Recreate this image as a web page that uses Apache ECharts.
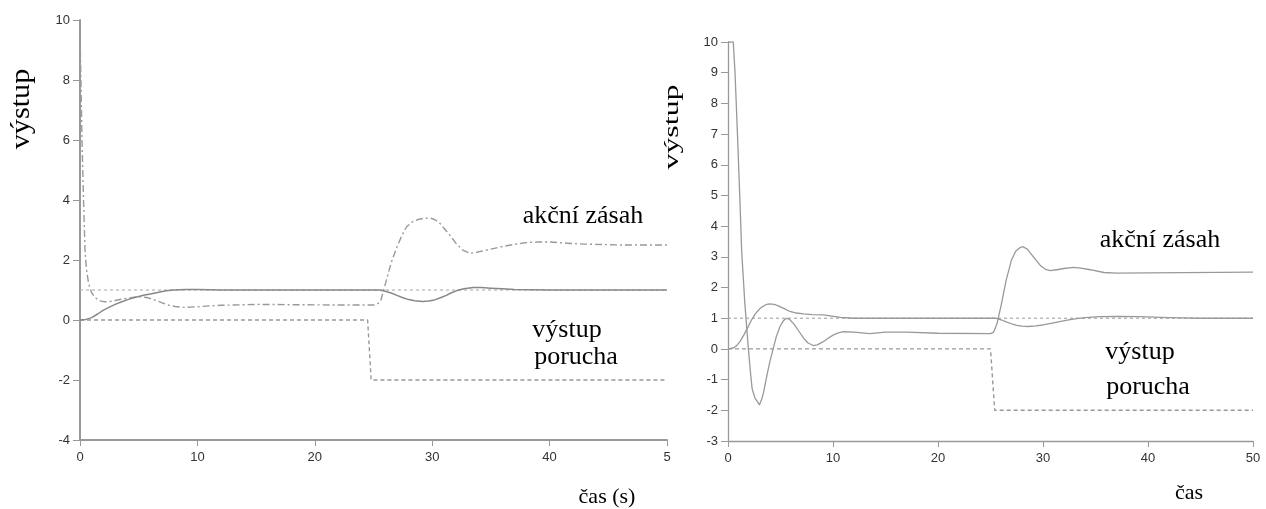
<!DOCTYPE html>
<html>
<head>
<meta charset="utf-8">
<script src="https://cdn.jsdelivr.net/npm/echarts@6/dist/echarts.min.js"></script>
<style>
  html, body { margin: 0; padding: 0; background: #fff; }
  #chart { width: 1266px; height: 509px; }
</style>
</head>
<body>
<div id="chart"></div>
<script>
// odezva regulovaného systému - [čas, hodnota], odečteno z obrázku
// levý graf
var leftSetpoint = [[0, 1], [50, 1]]
var leftPorucha = [[0, 0], [24.5, 0], [24.8, -2], [50, -2]]
var leftVystup = [[0, 0], [0.5, 0.02], [1, 0.08], [1.5, 0.2], [2, 0.33], [2.5, 0.43], [3, 0.52],
  [3.5, 0.6], [4, 0.67], [4.5, 0.73], [5, 0.78], [5.5, 0.83], [6, 0.87], [6.5, 0.91], [7, 0.95],
  [7.5, 0.98], [8, 1.0], [9, 1.02], [10, 1.02], [11, 1.01], [12, 1.0], [25.5, 1.0], [26, 0.96],
  [26.5, 0.9], [27, 0.82], [27.5, 0.74], [28, 0.68], [28.5, 0.64], [29.2, 0.62], [29.7, 0.63],
  [30.2, 0.67], [30.7, 0.74], [31.2, 0.82], [31.6, 0.9], [32.1, 0.98], [32.7, 1.04], [33.5, 1.08],
  [34.2, 1.08], [35, 1.06], [36, 1.04], [37, 1.02], [40, 1.0], [50, 1.0]]
var leftAkce = [[0, 9.5], [0.08, 8], [0.17, 6], [0.3, 4], [0.43, 2.3], [0.55, 1.7], [0.7, 1.3],
  [0.85, 1.05], [1, 0.9], [1.25, 0.77], [1.5, 0.68], [1.8, 0.63], [2.1, 0.61], [2.6, 0.62],
  [3, 0.65], [3.5, 0.69], [4, 0.72], [4.8, 0.77], [5.3, 0.77], [5.8, 0.74], [6.5, 0.65],
  [7, 0.57], [7.5, 0.5], [8.1, 0.45], [8.8, 0.42], [9.4, 0.43], [10, 0.44], [11, 0.47],
  [12, 0.49], [13, 0.5], [15.3, 0.52], [18, 0.51], [22, 0.5], [25, 0.5], [25.3, 0.52],
  [25.6, 0.62], [26.1, 1.33], [26.5, 1.9], [27, 2.44], [27.4, 2.8], [27.8, 3.1], [28.3, 3.27],
  [28.8, 3.35], [29.3, 3.39], [29.8, 3.4], [30.2, 3.35], [30.6, 3.25], [31, 3.06], [31.5, 2.83],
  [32, 2.57], [32.6, 2.33], [33.2, 2.22], [33.8, 2.26], [34.5, 2.32], [35.2, 2.38], [36, 2.45],
  [37, 2.52], [38, 2.58], [39, 2.6], [40, 2.6], [41.5, 2.56], [43, 2.53], [46, 2.5], [50, 2.5]]

// pravý graf
var rightSetpoint = [[0, 1], [50, 1]]
var rightPorucha = [[0, 0], [25, 0], [25.4, -2], [50, -2]]
var rightVystup = [[0, 0], [0.5, 0.03], [0.8, 0.1], [1.14, 0.24], [1.5, 0.45], [1.84, 0.67],
  [2.2, 0.92], [2.64, 1.16], [3.0, 1.3], [3.3, 1.38], [3.6, 1.44], [3.94, 1.47], [4.4, 1.45],
  [4.8, 1.4], [5.3, 1.32], [5.9, 1.22], [6.5, 1.17], [7.2, 1.14], [8, 1.12], [9.1, 1.11],
  [9.9, 1.07], [10.7, 1.03], [12, 1.0], [25.5, 1.0], [26, 0.95], [26.5, 0.88], [27, 0.82],
  [27.5, 0.77], [28, 0.74], [28.6, 0.73], [29.3, 0.75], [30, 0.78], [31, 0.85], [32.3, 0.94],
  [33.2, 0.99], [34, 1.02], [35.4, 1.05], [37, 1.06], [39.2, 1.05], [42, 1.02], [45, 1.0], [50, 1.0]]
var rightAkce = [[0, 10], [0.5, 10], [0.67, 9], [0.9, 7], [1.14, 4.8], [1.3, 3.2], [1.6, 1.5],
  [1.94, 0], [2.15, -0.8], [2.3, -1.3], [2.57, -1.6], [2.8, -1.72], [3.0, -1.82], [3.2, -1.65],
  [3.4, -1.4], [3.68, -0.9], [4.0, -0.4], [4.3, 0], [4.6, 0.4], [4.95, 0.73], [5.3, 0.93],
  [5.6, 1.0], [5.9, 0.95], [6.3, 0.8], [6.7, 0.6], [7.2, 0.35], [7.6, 0.2], [8.1, 0.11],
  [8.5, 0.13], [9, 0.22], [9.5, 0.34], [10, 0.45], [10.5, 0.52], [11, 0.56], [12, 0.55],
  [13.5, 0.5], [15, 0.55], [17, 0.55], [20, 0.51], [25, 0.5], [25.3, 0.55], [25.6, 0.8],
  [26, 1.4], [26.5, 2.25], [27, 2.9], [27.4, 3.18], [27.8, 3.3], [28.1, 3.33], [28.5, 3.25],
  [29.2, 2.95], [29.8, 2.7], [30.3, 2.58], [30.7, 2.55], [31.3, 2.58], [32, 2.62], [32.9, 2.66],
  [33.6, 2.63], [34.5, 2.58], [35.8, 2.49], [37, 2.47], [40, 2.48], [50, 2.5]]

var xTicks = { min: 0, max: 50, interval: 10 }
var leftYTicks = { min: -4, max: 10, interval: 2 }
var rightYTicks = { min: -3, max: 10, interval: 1 }

var chart = echarts.init(document.getElementById('chart'), null, { renderer: 'canvas' })

var serif = '"Liberation Serif", "DejaVu Serif", serif'
var tickFont = { fontFamily: '"Liberation Sans", Arial, sans-serif', fontSize: 13, color: '#333' }

function axisX(gridIndex, lineWidth, fmt) {
  return {
    type: 'value',
    gridIndex: gridIndex,
    min: xTicks.min,
    max: xTicks.max,
    interval: xTicks.interval,
    splitLine: { show: false },
    axisLine: { onZero: false, lineStyle: { color: '#999', width: lineWidth } },
    axisTick: { length: 6, lineStyle: { color: '#999', width: 1 } },
    axisLabel: Object.assign({ margin: 11, formatter: fmt }, tickFont)
  }
}

function axisY(gridIndex, ticks, lineWidth) {
  return {
    type: 'value',
    gridIndex: gridIndex,
    min: ticks.min,
    max: ticks.max,
    interval: ticks.interval,
    splitLine: { show: false },
    axisLine: { onZero: false, lineStyle: { color: '#999', width: lineWidth } },
    axisTick: { length: 7, lineStyle: { color: '#999', width: 1 } },
    axisLabel: Object.assign({ margin: 10 }, tickFont)
  }
}

function line(idx, data, color, type, width) {
  return {
    type: 'line',
    xAxisIndex: idx,
    yAxisIndex: idx,
    data: data,
    showSymbol: false,
    silent: true,
    lineStyle: { color: color, type: type, width: width, join: 'round' }
  }
}

function label(text, x, y, size, extra) {
  return Object.assign({
    type: 'text',
    x: x,
    y: y,
    z: 100,
    style: { text: text, font: size + 'px ' + serif, fill: '#000', align: 'center', verticalAlign: 'middle' }
  }, extra || {})
}

chart.setOption({
  animation: false,
  grid: [
    { left: 80, top: 20, width: 587, height: 420 },
    { left: 728, top: 42, width: 525, height: 399 }
  ],
  xAxis: [
    axisX(0, 2, function (v) { return v === 50 ? '5' : v }),
    axisX(1, 1.3)
  ],
  yAxis: [
    axisY(0, leftYTicks, 2),
    axisY(1, rightYTicks, 1.3)
  ],
  series: [
    line(0, leftSetpoint, '#b5b5b5', [3, 3], 1.2),
    line(0, leftPorucha, '#999', [4, 3], 1.4),
    line(0, leftAkce, '#999', [7, 3, 2, 3], 1.4),
    line(0, leftVystup, '#888', 'solid', 1.5),
    line(1, rightSetpoint, '#aaa', [3, 3], 1.2),
    line(1, rightPorucha, '#999', [4, 3], 1.4),
    line(1, rightAkce, '#999', 'solid', 1.3),
    line(1, rightVystup, '#999', 'solid', 1.3)
  ],
  graphic: [
    label('výstup', 22, 109, 27, { rotation: Math.PI / 2, scaleX: 1.12 }),
    label('výstup', 672, 127, 22, { rotation: Math.PI / 2, scaleX: 1.45 }),
    label('akční zásah', 583, 216, 26),
    label('výstup', 567, 330, 26),
    label('porucha', 576, 357, 26),
    label('čas (s)', 607, 497, 22),
    label('akční zásah', 1160, 240, 26),
    label('výstup', 1140, 352, 26),
    label('porucha', 1148, 387, 26),
    label('čas', 1189, 493, 22)
  ]
})
</script>
</body>
</html>
